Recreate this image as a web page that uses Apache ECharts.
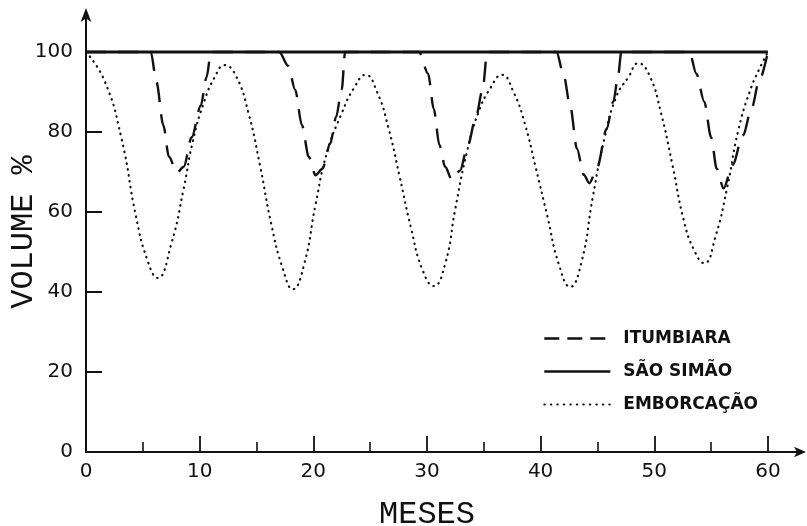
<!DOCTYPE html>
<html><head><meta charset="utf-8">
<script src="https://cdn.jsdelivr.net/npm/echarts@6/dist/echarts.min.js"></script>
<style>html,body{margin:0;padding:0;background:#fff}#c{width:807px;height:526px}</style>
</head><body><div id="c"></div>
<script>
const seriesNames = ['ITUMBIARA', 'SÃO SIMÃO', 'EMBORCAÇÃO'];
const xMajorTicks = [0,10,20,30,40,50,60];
const xMinorTicks = [5,15,25,35,45,55];
const xLabelValues = [0,10,20,30,40,50,60];
const yLabelValues = [0,20,40,60,80,100];

const itumbiaraX = [0,5.7,6.2,6.8,7.3,8.0,8.6,9.3,10.1,10.6,11.0,
  17.0,17.8,18.4,19.0,19.6,20.2,20.8,21.5,22.0,22.5,22.8,
  29.3,30.1,30.6,31.1,31.6,32.2,32.9,33.6,34.3,34.9,35.3,
  41.4,42.0,42.6,43.2,43.8,44.3,45.0,45.8,46.4,46.8,47.1,
  53.1,53.7,54.4,55.0,55.5,56.1,56.9,57.8,58.6,59.2,60];
const itumbiaraY = [100,100,92.5,81.7,73.8,69.8,71.3,78.7,86.6,93.6,100,
  100,96.5,90.6,81.7,73.8,69.2,70.8,77.2,83.7,90.6,100,
  100,94.6,85.7,76.7,71.3,68,70.3,76.7,83.7,90.6,100,
  100,94.6,86.6,75.8,69.3,67.2,71.3,80.7,87.6,93.6,100,
  100,94.6,87.6,78.7,70.8,65.9,71.8,79.2,86.2,92.6,100];

const saoSimaoX = [0,60];
const saoSimaoY = [100,100];

const emborcacaoX = [0,1.6,3.1,4.4,5.4,6.3,7.5,8.6,9.4,10.4,11.3,12.2,
  13.2,14.3,15.3,16.3,17.3,18.2,19.2,20.2,21.2,22.5,23.6,24.6,
  25.6,26.6,27.6,28.6,29.6,30.6,31.6,32.5,33.5,34.5,35.6,36.6,
  37.6,38.6,39.6,40.6,41.6,42.6,43.6,44.6,45.6,46.7,47.7,48.6,
  49.6,50.6,51.6,52.6,53.5,54.4,55.4,56.4,57.4,58.4,59.2,60];
const emborcacaoY = [100,93,78.7,58.9,48,43.5,52,65.9,77.7,87.6,93.6,96.7,
  94,84.7,71.8,57,46,40.7,47,61.9,74.8,84.7,91.1,94.3,
  90.1,81.2,68.8,56,45.6,41.5,47,60.9,74.8,84.7,91.1,94.3,
  90.1,82.2,70.8,58.9,47,41.3,47.5,63.9,78.2,89.1,93.6,97.2,
  94,84.7,71.8,57.9,50.5,47.2,54,65.9,80.5,90.1,95.5,100];

const zip = (xs, ys) => xs.map((x, i) => [x, ys[i]]);
const ink = '#111';
const serifMono = 'Liberation Mono';

const chart = echarts.init(document.getElementById('c'), null, {renderer: 'canvas'});
chart.setOption({
  animation: false,
  backgroundColor: '#fff',
  grid: {left: 86, right: 5, top: 12, bottom: 74, containLabel: false, outerBoundsMode: 'none'},
  title: {
    text: 'MESES', left: 422, top: 494, textAlign: 'center',
    textStyle: {fontFamily: serifMono, fontSize: 32, fontWeight: 'normal', color: ink}
  },
  legend: {
    orient: 'vertical', left: 538, top: 325, itemWidth: 66, itemHeight: 14, itemGap: 16,
    data: [
      {name: seriesNames[0], itemStyle: {opacity: 0}, lineStyle: {type: [15, 8], width: 2.4, color: ink}},
      {name: seriesNames[1], itemStyle: {opacity: 0}, lineStyle: {type: 'solid', width: 2.6, color: ink}},
      {name: seriesNames[2], itemStyle: {opacity: 0}, lineStyle: {type: [0.5, 6], width: 2, cap: 'round', color: ink}}
    ],
    textStyle: {fontFamily: 'DejaVu Sans', fontSize: 17, fontWeight: 'bold', color: ink, padding: [0,0,0,8]}
  },
  xAxis: [{
    type: 'value', min: 0, max: 63,
    axisLine: {show: true, lineStyle: {color: ink, width: 2}, symbol: ['none','arrow'], symbolSize: [8, 12], symbolOffset: [0, 4]},
    axisTick: {show: true, inside: true, length: 16, customValues: xMajorTicks, lineStyle: {color: ink, width: 1.8}},
    axisLabel: {show: true, customValues: xLabelValues, margin: 10, color: ink, fontFamily: 'DejaVu Sans', fontSize: 20},
    splitLine: {show: false}
  }, {
    type: 'value', min: 0, max: 63, position: 'bottom', offset: 0,
    axisLine: {show: false},
    axisTick: {show: true, inside: true, length: 10, customValues: xMinorTicks, lineStyle: {color: ink, width: 1.6}},
    axisLabel: {show: false},
    splitLine: {show: false}
  }],
  yAxis: {
    type: 'value', min: 0, max: 110,
    name: 'VOLUME %', nameLocation: 'middle', nameGap: 46, nameRotate: 90, nameMoveOverlap: false,
    nameTextStyle: {fontFamily: serifMono, fontSize: 32, color: ink},
    axisLine: {show: true, lineStyle: {color: ink, width: 2}, symbol: ['none','arrow'], symbolSize: [8, 14], symbolOffset: [0, 4]},
    axisTick: {show: true, inside: true, length: 16, customValues: yLabelValues, lineStyle: {color: ink, width: 2}},
    axisLabel: {show: true, customValues: yLabelValues, margin: 13, color: ink, fontFamily: 'DejaVu Sans', fontSize: 20},
    splitLine: {show: false}
  },
  series: [
    {
      name: seriesNames[0], type: 'line', data: zip(itumbiaraX, itumbiaraY),
      symbol: 'none', smooth: 0.3, smoothMonotone: 'x', z: 3,
      lineStyle: {color: ink, width: 2.4, type: [20, 12]},
      itemStyle: {color: ink}
    },
    {
      name: seriesNames[1], type: 'line', data: zip(saoSimaoX, saoSimaoY),
      symbol: 'none', z: 4,
      lineStyle: {color: ink, width: 2.8, type: 'solid'},
      itemStyle: {color: ink}
    },
    {
      name: seriesNames[2], type: 'line', data: zip(emborcacaoX, emborcacaoY),
      symbol: 'none', smooth: 0.5, z: 2,
      lineStyle: {color: ink, width: 2.2, type: [0.5, 5.5], cap: 'round'},
      itemStyle: {color: ink}
    }
  ]
});
</script></body></html>
